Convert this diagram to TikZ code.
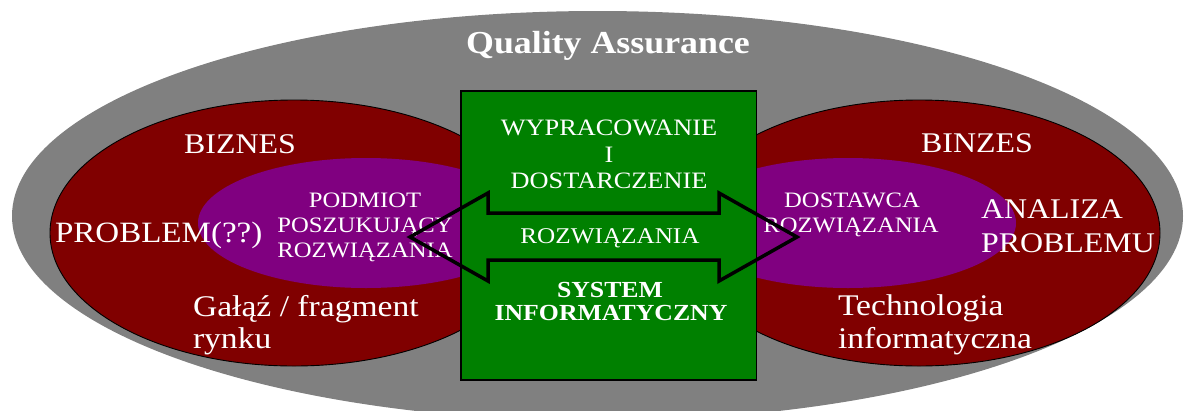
\documentclass[tikz,border=0pt]{standalone}
\usepackage{fontspec}
\setmainfont{Liberation Serif}[FakeStretch=1.12]
\definecolor{qagrey}{HTML}{808080}
\definecolor{qared}{HTML}{800000}
\definecolor{qapurple}{HTML}{800080}
\definecolor{qagreen}{HTML}{008000}
\newcommand\fsz[1]{\fontsize{#1}{#1}\selectfont}
\tikzset{
  lbl/.style={text=white, inner sep=0pt, outer sep=0pt, anchor=base},
  lblw/.style={lbl, anchor=base west},
  redell/.style={fill=qared, draw=black, line width=0.9pt},
  purell/.style={fill=qapurple},
}
\begin{document}
\begin{tikzpicture}[x=1pt,y=-1pt]
\useasboundingbox (0,0) rectangle (1186,410);
% outer grey ellipse
\fill[qagrey] (597.5,216) ellipse [x radius=585.5, y radius=205];
% red ellipses
\draw[redell] (294,233) ellipse [x radius=244, y radius=133];
\draw[redell] (919,233) ellipse [x radius=241, y radius=133];
% purple ellipses
\fill[purell] (366,223) ellipse [x radius=168, y radius=65];
\fill[purell] (848,223) ellipse [x radius=168, y radius=65];
% green box
\draw[fill=qagreen, draw=black, line width=1.2pt] (461,91) rectangle (756.5,380);
% texts
\node[lbl, font=\fsz{32}\bfseries] (qa) at (608,53) {Quality Assurance};
\node[lbl, font=\fsz{28.5}] (biz) at (240,153) {BIZNES};
\node[lblw, font=\fsz{29.5}] (prob) at (55,242) {PROBLEM(??)};
\node[lblw, font=\fsz{30}] (galaz) at (193,316) {Gałąź / fragment};
\node[lblw, font=\fsz{30}] (rynku) at (193,348) {rynku};
\node[lbl, font=\fsz{22}] (pod1) at (365,207) {PODMIOT};
\node[lbl, font=\fsz{22}] (pod2) at (365,232) {POSZUKUJĄCY};
\node[lbl, font=\fsz{22}] (pod3) at (365,257) {ROZWIĄZANIA};
\node[lbl, font=\fsz{23.5}] (wyp1) at (609,135) {WYPRACOWANIE};
\node[lbl, font=\fsz{23.5}] (wyp2) at (609,162) {I};
\node[lbl, font=\fsz{23.5}] (wyp3) at (609,188) {DOSTARCZENIE};
\node[lbl, font=\fsz{22.5}] (wyp4) at (610,243) {ROZWIĄZANIA};
\node[lbl, font=\fsz{23}\bfseries] (sys1) at (610,297) {SYSTEM};
\node[lbl, font=\fsz{23}\bfseries] (sys2) at (611,320) {INFORMATYCZNY};
\node[lbl, font=\fsz{28.5}] (binz) at (977,152) {BINZES};
\node[lbl, font=\fsz{22}] (dos1) at (852,207) {DOSTAWCA};
\node[lbl, font=\fsz{22}] (dos2) at (851,232) {ROZWIĄZANIA};
\node[lblw, font=\fsz{28.5}] (ana1) at (981,218) {ANALIZA};
\node[lblw, font=\fsz{28.5}] (ana2) at (981,252) {PROBLEMU};
\node[lblw, font=\fsz{30}] (tech1) at (838,315) {Technologia};
\node[lblw, font=\fsz{30}] (tech2) at (838,348) {informatyczna};
% double block arrow (outline only)
\draw[black, line width=3.5pt, line join=miter]
  (410,237) -- (488,193) -- (488,213) -- (719,213) -- (719,193) -- (797,237)
  -- (719,281) -- (719,260) -- (488,260) -- (488,281) -- cycle;
\end{tikzpicture}
\end{document}
